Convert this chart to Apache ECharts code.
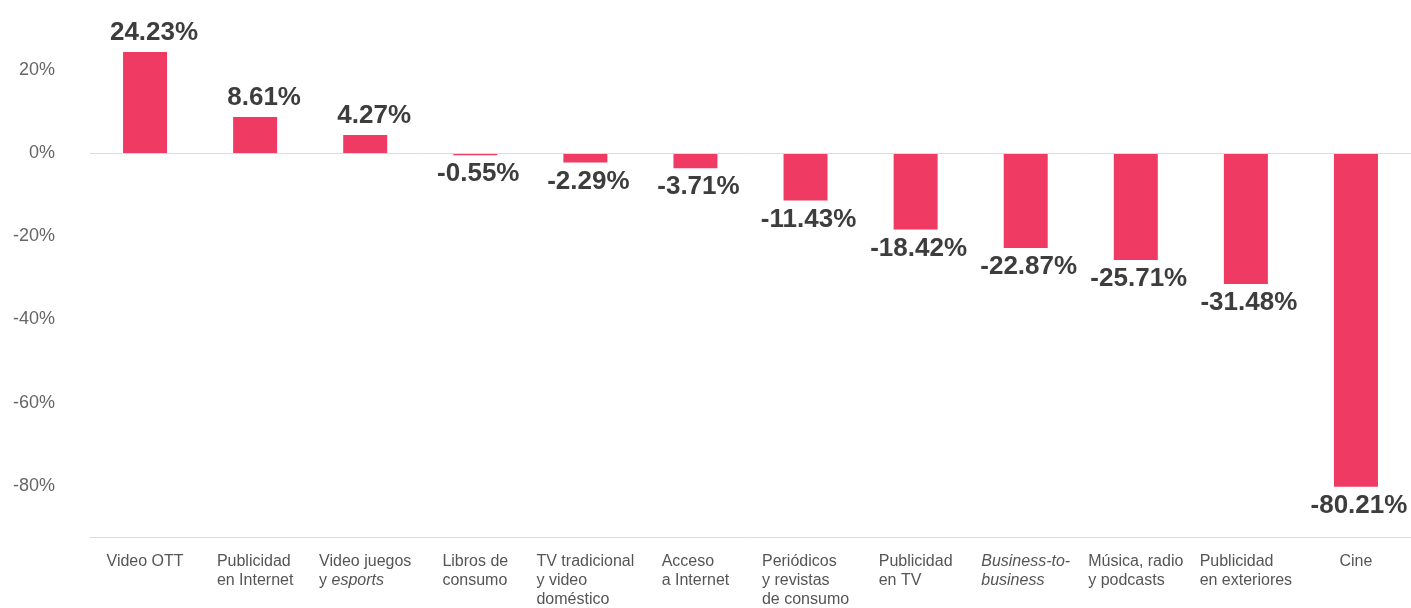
<!DOCTYPE html>
<html>
<head>
<meta charset="utf-8">
<script src="https://cdn.jsdelivr.net/npm/echarts@6/dist/echarts.min.js"></script>
<style>
  html, body { margin: 0; padding: 0; background: #fff; }
  #chart { width: 1411px; height: 608px; }
</style>
</head>
<body>
<div id="chart"></div>
<script>
// categories (rich text so some words can be italic)
const categories = [
  '{n|Video OTT}',
  '{n|Publicidad}\n{n|en Internet}',
  '{n|Video juegos}\n{n|y }{i|esports}',
  '{n|Libros de}\n{n|consumo}',
  '{n|TV tradicional}\n{n|y video}\n{n|doméstico}',
  '{n|Acceso}\n{n|a Internet}',
  '{n|Periódicos}\n{n|y revistas}\n{n|de consumo}',
  '{n|Publicidad}\n{n|en TV}',
  '{i|Business-to-}\n{i|business}',
  '{n|Música, radio}\n{n|y podcasts}',
  '{n|Publicidad}\n{n|en exteriores}',
  '{n|Cine}'
];
const values = [24.23, 8.61, 4.27, -0.55, -2.29, -3.71, -11.43, -18.42, -22.87, -25.71, -31.48, -80.21];
const yTicks = [-80, -60, -40, -20, 0, 20];

const FONT = '"Liberation Sans", Helvetica, Arial, sans-serif';
const chart = echarts.init(document.getElementById('chart'));

const option = {
  backgroundColor: '#fff',
  animation: false,
  grid: { left: 90, right: 0, top: 28, bottom: 65 },
  xAxis: {
    type: 'category',
    data: categories,
    axisLine: { onZero: false, lineStyle: { color: '#dcdcdc', width: 1 } },
    axisTick: { show: false },
    axisLabel: {
      interval: 0,
      margin: 15,
      align: 'center',
      verticalAlign: 'top',
      rich: {
        n: { fontFamily: FONT, fontSize: 16, color: '#555', lineHeight: 19, align: 'left' },
        i: { fontFamily: FONT, fontSize: 16, color: '#555', lineHeight: 19, align: 'left', fontStyle: 'italic' }
      }
    }
  },
  yAxis: {
    type: 'value',
    min: -92.4,
    max: 30,
    axisLine: { show: false },
    axisTick: { show: false },
    splitLine: { show: false },
    axisLabel: {
      customValues: yTicks,
      margin: 35,
      fontFamily: FONT,
      fontSize: 18,
      color: '#666',
      formatter: v => v + '%'
    }
  },
  series: [{
    type: 'bar',
    data: values.map(v => ({
      value: v,
      label: v >= 0
        ? { position: 'top', offset: [9, 0] }
        : { position: 'bottom', offset: [3, 0] }
    })),
    barWidth: 44,
    itemStyle: { color: '#ef3b63' },
    label: {
      show: true,
      distance: 6,
      fontFamily: FONT,
      fontSize: 26,
      fontWeight: 'bold',
      color: '#3d3d3d',
      formatter: p => p.value.toFixed(2) + '%'
    },
    markLine: {
      silent: true,
      symbol: 'none',
      label: { show: false },
      lineStyle: { color: '#dcdcdc', type: 'solid', width: 1 },
      data: [{ yAxis: 0 }]
    },
    z: 3
  }]
};

chart.setOption(option);
</script>
</body>
</html>
